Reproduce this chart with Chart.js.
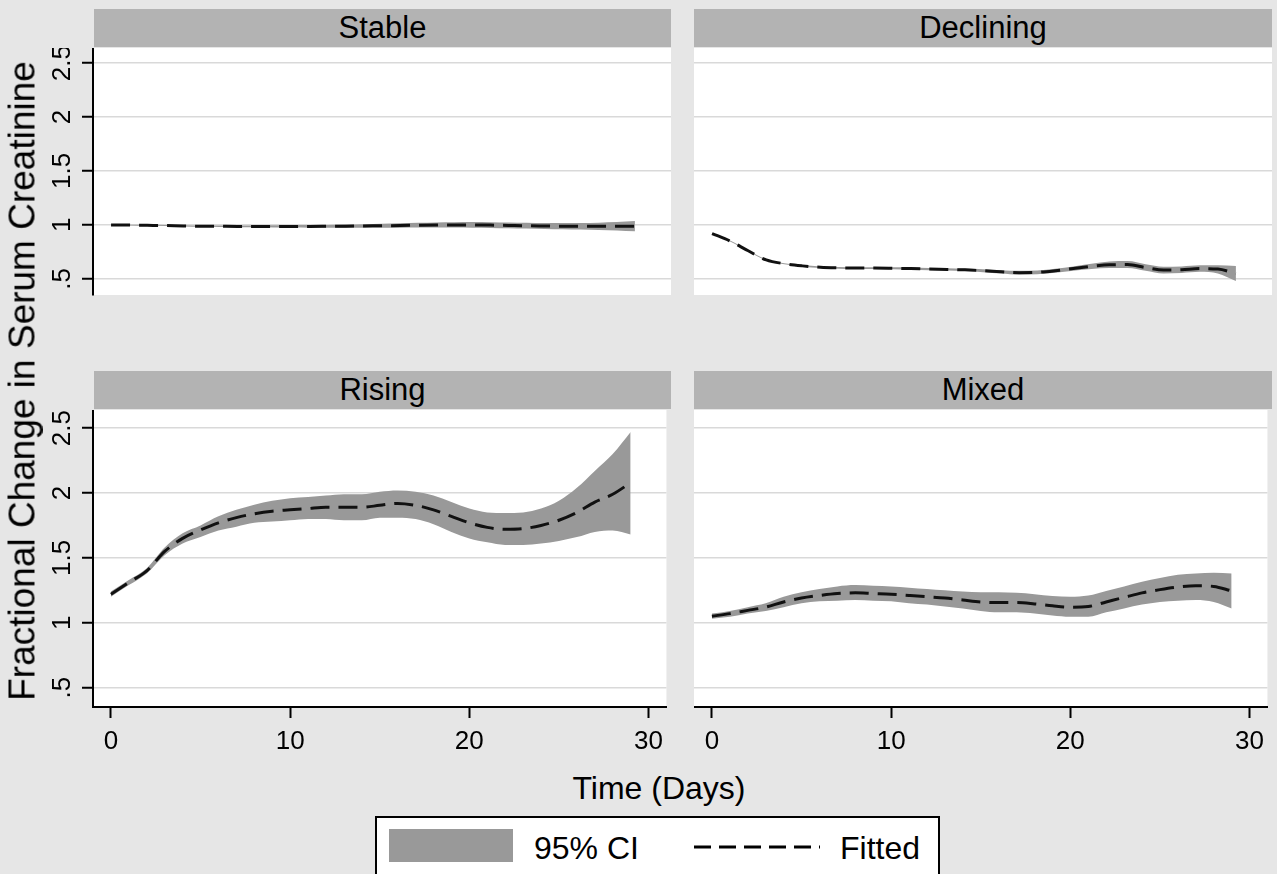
<!DOCTYPE html>
<html><head><meta charset="utf-8">
<script src="https://cdn.jsdelivr.net/npm/chart.js@4.4.1/dist/chart.umd.min.js"></script>
<style>
html,body{margin:0;padding:0;}
body{width:1277px;height:874px;background:#e6e6e6;position:relative;overflow:hidden;font-family:"Liberation Sans",Arial,sans-serif;color:#000;}
canvas{position:absolute;}
.hdr{position:absolute;background:#b3b3b3;text-align:center;font-size:31px;line-height:38px;height:38px;}
#ytitle{position:absolute;left:22px;top:381px;font-size:37px;line-height:37px;white-space:nowrap;transform:translate(-50%,-50%) rotate(-90deg);}
#xtitle{position:absolute;left:659px;top:788px;font-size:32px;line-height:32px;white-space:nowrap;transform:translate(-50%,-50%);}
#legend{position:absolute;left:375px;top:816px;width:561px;height:80px;background:#fff;border:2px solid #000;}
.lg{position:absolute;font-size:32px;line-height:32px;white-space:nowrap;}
</style></head>
<body>
<div class="hdr" style="left:94px;top:9px;width:577px;">Stable</div>
<div class="hdr" style="left:694px;top:9px;width:578px;">Declining</div>
<div class="hdr" style="left:94px;top:371px;width:577px;">Rising</div>
<div class="hdr" style="left:694px;top:371px;width:578px;">Mixed</div>
<canvas id="cTL" width="671" height="297" style="left:0;top:48px;"></canvas>
<canvas id="cTR" width="578" height="297" style="left:694px;top:48px;"></canvas>
<canvas id="cBL" width="671" height="347" style="left:0;top:410px;"></canvas>
<canvas id="cBR" width="578" height="347" style="left:694px;top:410px;"></canvas>
<div id="ytitle">Fractional Change in Serum Creatinine</div>
<div id="xtitle">Time (Days)</div>
<div id="legend">
  <div style="position:absolute;left:12px;top:11px;width:124px;height:33px;background:#999999;"></div>
  <div class="lg" style="left:157px;top:14px;">95% CI</div>
  <svg style="position:absolute;left:317px;top:26px;" width="126" height="6"><line x1="0" y1="3" x2="126" y2="3" stroke="#000" stroke-width="3" stroke-dasharray="17 8"/></svg>
  <div class="lg" style="left:463px;top:14px;">Fitted</div>
</div>
<script>
const days = [0,1,2,3,4,5,6,7,8,9,10,11,12,13,14,15,16,17,18,19,20,21,22,23,24,25,26,27,28,29];

const stableFit = [1.0,0.998,0.996,0.994,0.99,0.988,0.987,0.986,0.986,0.986,0.986,0.986,0.987,0.988,0.99,0.992,0.994,0.997,0.999,1.0,1.0,0.998,0.995,0.992,0.99,0.988,0.987,0.987,0.987,0.988];
const stableLo  = [0.997,0.994,0.991,0.989,0.985,0.982,0.98,0.978,0.977,0.976,0.975,0.974,0.974,0.973,0.973,0.973,0.974,0.975,0.975,0.975,0.974,0.972,0.969,0.966,0.963,0.96,0.957,0.953,0.948,0.94];
const stableHi  = [1.003,1.002,1.001,0.999,0.996,0.994,0.994,0.994,0.995,0.996,0.997,0.998,1.0,1.003,1.007,1.011,1.015,1.019,1.023,1.025,1.026,1.025,1.022,1.019,1.017,1.017,1.018,1.021,1.026,1.035];

const declFit = [0.92,0.85,0.76,0.675,0.64,0.62,0.607,0.602,0.6,0.6,0.598,0.595,0.59,0.587,0.583,0.575,0.565,0.557,0.56,0.575,0.595,0.615,0.63,0.632,0.605,0.582,0.585,0.595,0.59,0.55];
const declLo  = [0.915,0.845,0.755,0.67,0.635,0.613,0.6,0.594,0.592,0.592,0.588,0.585,0.58,0.576,0.572,0.562,0.55,0.54,0.543,0.556,0.575,0.59,0.6,0.6,0.575,0.55,0.555,0.565,0.55,0.48];
const declHi  = [0.925,0.855,0.765,0.68,0.645,0.627,0.615,0.61,0.608,0.608,0.608,0.605,0.6,0.598,0.595,0.588,0.58,0.574,0.578,0.594,0.615,0.64,0.66,0.665,0.635,0.612,0.615,0.625,0.625,0.62];

const risingFit = [1.22,1.31,1.4,1.55,1.65,1.715,1.77,1.81,1.84,1.86,1.87,1.88,1.89,1.89,1.89,1.905,1.92,1.905,1.87,1.82,1.77,1.735,1.72,1.725,1.75,1.79,1.85,1.93,1.99,2.08];
const risingLo  = [1.2,1.29,1.38,1.52,1.61,1.66,1.71,1.74,1.77,1.78,1.79,1.8,1.8,1.79,1.79,1.81,1.81,1.8,1.76,1.7,1.65,1.62,1.6,1.6,1.61,1.63,1.66,1.7,1.71,1.68];
const risingHi  = [1.24,1.33,1.42,1.58,1.69,1.75,1.82,1.87,1.91,1.94,1.96,1.97,1.98,1.99,1.99,2.01,2.02,2.01,1.98,1.93,1.88,1.85,1.845,1.85,1.88,1.94,2.04,2.17,2.3,2.47];

const mixedFit = [1.05,1.07,1.095,1.12,1.16,1.19,1.21,1.225,1.23,1.225,1.22,1.21,1.2,1.19,1.175,1.16,1.155,1.155,1.145,1.13,1.12,1.125,1.16,1.195,1.23,1.255,1.275,1.285,1.28,1.245];
const mixedLo  = [1.03,1.045,1.07,1.09,1.12,1.15,1.165,1.17,1.175,1.17,1.165,1.15,1.14,1.125,1.11,1.09,1.08,1.08,1.07,1.055,1.045,1.045,1.08,1.11,1.14,1.16,1.17,1.175,1.16,1.11];
const mixedHi  = [1.07,1.09,1.12,1.15,1.2,1.235,1.26,1.28,1.29,1.285,1.28,1.27,1.26,1.25,1.24,1.235,1.235,1.23,1.22,1.205,1.2,1.21,1.245,1.28,1.315,1.345,1.37,1.38,1.385,1.38];

const yTickVals = [0.5,1,1.5,2,2.5];
const yTickLabels = ['.5','1','1.5','2','2.5'];
const xTickVals = [0,10,20,30];
const xTickLabels = ['0','10','20','30'];

const Y_MIN = 0.35, Y_MAX = 2.64, X_MIN = -1, X_MAX = 31;

const whiteArea = {
  id:'whiteArea',
  beforeDraw(c){
    const a = c.chartArea, ctx = c.ctx;
    ctx.save(); ctx.fillStyle = '#ffffff';
    ctx.fillRect(a.left, a.top, a.right - a.left, a.bottom - a.top);
    ctx.restore();
  }
};
const yLabels = {
  id:'yLabels',
  afterDraw(c, args, opts){
    if (!opts.show) return;
    const s = c.scales.y, ctx = c.ctx;
    ctx.save();
    ctx.font = '26px "Liberation Sans", Arial, sans-serif';
    ctx.fillStyle = '#000';
    ctx.textAlign = 'center';
    ctx.textBaseline = 'middle';
    yTickVals.forEach((v, i) => {
      const y = s.getPixelForValue(v);
      ctx.save(); ctx.translate(opts.x, y); ctx.rotate(-Math.PI / 2);
      ctx.fillText(yTickLabels[i], 0, 0);
      ctx.restore();
    });
    ctx.restore();
  }
};

function panel(id, fit, lo, hi, leftAxis, bottomAxis){
  const pts = arr => days.map((d, i) => ({x: d, y: arr[i]}));
  new Chart(document.getElementById(id), {
    type: 'line',
    data: {datasets: [
      {label: 'Fitted', data: pts(fit), borderColor: '#111111', borderWidth: 3, borderDash: [19, 9], pointRadius: 0, fill: false, cubicInterpolationMode: 'monotone', order: 0},
      {label: 'lo', data: pts(lo), borderWidth: 0, borderColor: 'rgba(0,0,0,0)', pointRadius: 0, fill: false, cubicInterpolationMode: 'monotone', order: 1},
      {label: '95% CI', data: pts(hi), borderWidth: 0, borderColor: 'rgba(0,0,0,0)', pointRadius: 0, fill: 1, backgroundColor: '#999999', cubicInterpolationMode: 'monotone', order: 2}
    ]},
    options: {
      responsive: false, animation: false, devicePixelRatio: 1,
      layout: {padding: 0},
      plugins: {legend: {display: false}, tooltip: {enabled: false}, yLabels: {show: leftAxis, x: 62.5}},
      scales: {
        x: {
          type: 'linear', min: X_MIN, max: X_MAX, display: bottomAxis,
          afterBuildTicks: s => { s.ticks = xTickVals.map(v => ({value: v})); },
          afterFit: s => { s.height = 50; },
          grid: {drawOnChartArea: false, drawTicks: true, tickLength: 11, tickColor: '#000', tickWidth: 2},
          border: {display: true, color: '#000', width: 2},
          ticks: {font: {family: 'Liberation Sans', size: 26}, color: '#000', padding: 8, maxRotation: 0, minRotation: 0, autoSkip: false,
                  callback: (v) => xTickLabels[xTickVals.indexOf(v)]}
        },
        y: {
          type: 'linear', min: Y_MIN, max: Y_MAX, display: true,
          afterBuildTicks: s => { s.ticks = yTickVals.map(v => ({value: v})); },
          afterFit: s => { s.width = leftAxis ? 93 : 0; },
          grid: {color: '#d9d9d9', lineWidth: 1.5, drawTicks: leftAxis, tickLength: 11, tickColor: '#000', tickWidth: 2},
          border: {display: leftAxis, color: '#000', width: 2},
          ticks: {display: false}
        }
      }
    },
    plugins: [whiteArea, yLabels]
  });
}

panel('cTL', stableFit, stableLo, stableHi, true, false);
panel('cTR', declFit, declLo, declHi, false, false);
panel('cBL', risingFit, risingLo, risingHi, true, true);
panel('cBR', mixedFit, mixedLo, mixedHi, false, true);
</script>
</body></html>
